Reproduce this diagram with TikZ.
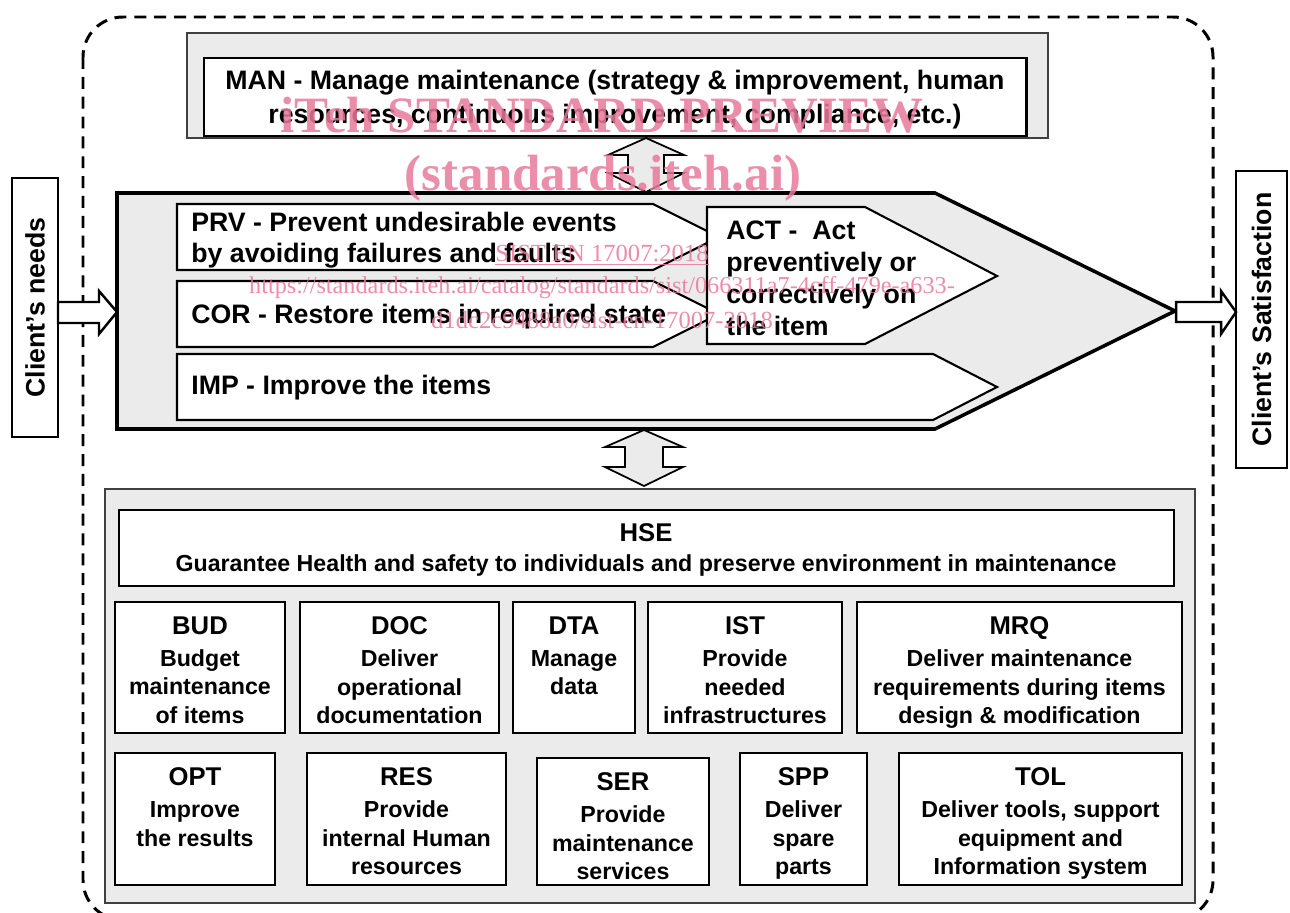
\documentclass[tikz,border=0pt]{standalone}
\usepackage{fontspec}
\setmainfont{Liberation Sans}
\newfontfamily\wmfont{Liberation Serif}
\usetikzlibrary{positioning,fit}

\definecolor{panelgray}{RGB}{235,235,235}
\definecolor{wmpink}{RGB}{232,122,155}

\newcommand{\procname}[1]{{\fontsize{14.6}{16.2}\selectfont #1}}

\tikzset{
  dashframe/.style={line width=1.7pt, dash pattern=on 6.8pt off 4.5pt, rounded corners=0.8cm},
  panel/.style={draw=black!75, fill=panelgray, line width=0.8pt, inner sep=0pt},
  cell/.style={draw, fill=white, line width=1.2pt, inner sep=0pt},
  bigarrow/.style={draw, fill=panelgray, line width=2pt, line join=miter},
  tag/.style={draw, fill=white, line width=1.2pt, line join=miter},
  blockarrow/.style={draw, fill=white, line width=1.4pt, line join=miter},
  twoway/.style={draw, fill=panelgray, line width=1pt, line join=miter},
  bigtext/.style={font=\bfseries\fontsize{15.2}{17.6}\selectfont, inner sep=0pt},
  boxtext/.style={font=\bfseries\fontsize{13.2}{16.2}\selectfont, align=center, inner sep=0pt},
  wmark/.style={text=wmpink, inner sep=0pt, opacity=0.85}
}

\begin{document}
\begin{tikzpicture}[x=0.02cm, y=-0.02cm]
  \useasboundingbox (0,0) rectangle (1290,912);

  % Outer boundary
  \draw[dashframe] (83,17) rectangle (1213,920);

  % Client boxes
  \node[cell, line width=1.4pt, fit={(12,178) (58,437)}] (needs) {};
  \node[bigtext, rotate=90] (needs-t) at (needs.center) {Client’s needs};
  \node[cell, line width=1.4pt, fit={(1236,171) (1287,468)}] (satisf) {};
  \node[bigtext, rotate=90] (satisf-t) at (satisf.center) {Client’s Satisfaction};

  % Management
  \node[panel, fit={(187,33) (1048,138)}] (manpanel) {};
  \node[cell, line width=1.7pt, fit={(204,58) (1026,136)}] (man) {};
  \node[bigtext, align=center, font=\bfseries\fontsize{15.2}{19.3}\selectfont] (man-t) at (615,100)
    {MAN - Manage maintenance (strategy \& improvement, human\\resources, continuous improvement, compliance, etc.)};

  % Main process arrow
  \draw[bigarrow] (117,193) -- (935,193) -- (1175,311) -- (935,429) -- (117,429) -- cycle;
  \coordinate (tip) at (1175,311);
  \draw[tag] (177,204) -- (653,204) -- (719,237) -- (653,270) -- (177,270) -- cycle;
  \draw[tag] (177,281) -- (653,281) -- (719,314) -- (653,347) -- (177,347) -- cycle;
  \draw[tag] (177,354) -- (933,354) -- (997,387) -- (933,420) -- (177,420) -- cycle;
  \draw[tag] (707,207) -- (865,207) -- (997,276) -- (865,344) -- (707,344) -- cycle;
  \node[bigtext, anchor=west, align=left] (prv) at (191,240) {PRV - Prevent undesirable events\\by avoiding failures and faults};
  \node[bigtext, anchor=west] (cor) at (191,317) {COR - Restore items in required state};
  \node[bigtext, anchor=west] (imp) at (191,388) {IMP - Improve the items};
  \node[bigtext, anchor=west, align=left, font=\bfseries\fontsize{15.2}{18.2}\selectfont] (act) at (726,278)
    {ACT -\ \ Act\\preventively or\\correctively on\\the item};

  % Block arrows
  \draw[blockarrow] (58,302) -- (99,302) -- (99,291) -- (117,312) -- (99,334) -- (99,323) -- (58,323) -- cycle;
  \draw[blockarrow] (1176,302) -- (1221,302) -- (1221,291) -- (1236,312) -- (1221,334) -- (1221,322) -- (1176,322) -- cycle;
  \draw[twoway] (646,138) -- (684,155) -- (664,155) -- (664,173) -- (684,173) -- (646,192)
    -- (608,173) -- (628,173) -- (628,155) -- (608,155) -- cycle;
  \draw[twoway] (644,430) -- (683,447) -- (663,447) -- (663,467) -- (683,467) -- (644,486)
    -- (605,467) -- (625,467) -- (625,447) -- (605,447) -- cycle;

  % Support processes
  \node[panel, fit={(105,489) (1195,903)}] (support) {};
  \node[cell, fit={(119,510) (1174,586)}] (hse) {};
  \node[boxtext, font=\bfseries\fontsize{13.2}{17}\selectfont] (hse-t) at (646,550)
    {\procname{HSE}\\Guarantee Health and safety to individuals and preserve environment in maintenance};

  \node[cell, fit={(115,602) (285,733)}] (bud) {};
  \node[cell, fit={(300,602) (499,733)}] (doc) {};
  \node[cell, fit={(513,602) (635,733)}] (dta) {};
  \node[cell, fit={(648,602) (842,733)}] (ist) {};
  \node[cell, fit={(857,602) (1182,733)}] (mrq) {};
  \node[boxtext, below=0.31cm of bud.north] (bud-t) {\procname{BUD}\\[2pt]Budget\\maintenance\\of items};
  \node[boxtext, below=0.31cm of doc.north] (doc-t) {\procname{DOC}\\[2pt]Deliver\\operational\\documentation};
  \node[boxtext, below=0.31cm of dta.north] (dta-t) {\procname{DTA}\\[2pt]Manage\\data};
  \node[boxtext, below=0.31cm of ist.north] (ist-t) {\procname{IST}\\[2pt]Provide\\needed\\infrastructures};
  \node[boxtext, below=0.31cm of mrq.north] (mrq-t) {\procname{MRQ}\\[2pt]Deliver maintenance\\requirements during items\\design \& modification};

  \node[cell, fit={(115,753) (275,885)}] (opt) {};
  \node[cell, fit={(307,753) (506,885)}] (res) {};
  \node[cell, fit={(537,758) (709,885)}] (ser) {};
  \node[cell, fit={(740,753) (867,885)}] (spp) {};
  \node[cell, fit={(899,753) (1182,885)}] (tol) {};
  \node[boxtext, below=0.31cm of opt.north] (opt-t) {\procname{OPT}\\[2pt]Improve\\the results};
  \node[boxtext, below=0.31cm of res.north] (res-t) {\procname{RES}\\[2pt]Provide\\internal Human\\resources};
  \node[boxtext, below=0.31cm of ser.north] (ser-t) {\procname{SER}\\[2pt]Provide\\maintenance\\services};
  \node[boxtext, below=0.31cm of spp.north] (spp-t) {\procname{SPP}\\[2pt]Deliver\\spare\\parts};
  \node[boxtext, below=0.31cm of tol.north] (tol-t) {\procname{TOL}\\[2pt]Deliver tools, support\\equipment and\\Information system};

  % Watermark
  \node[wmark, font=\wmfont\bfseries\fontsize{29}{29}\selectfont] (wm1) at (602,115) {iTeh STANDARD PREVIEW};
  \node[wmark, font=\wmfont\bfseries\fontsize{29}{29}\selectfont] (wm2) at (603,178) {(standards.iteh.ai)};
  \node[wmark, font=\wmfont\fontsize{14}{14}\selectfont] (wm3) at (602,255) {\underline{SIST EN 17007:2018}};
  \node[wmark, font=\wmfont\fontsize{13.8}{14}\selectfont] (wm4) at (602,288) {https://standards.iteh.ai/catalog/standards/sist/066311a7-4cff-479e-a633-};
  \node[wmark, font=\wmfont\fontsize{14}{14}\selectfont] (wm5) at (602,320) {d1dc2c9488a0/sist-en-17007-2018};
\end{tikzpicture}
\end{document}
